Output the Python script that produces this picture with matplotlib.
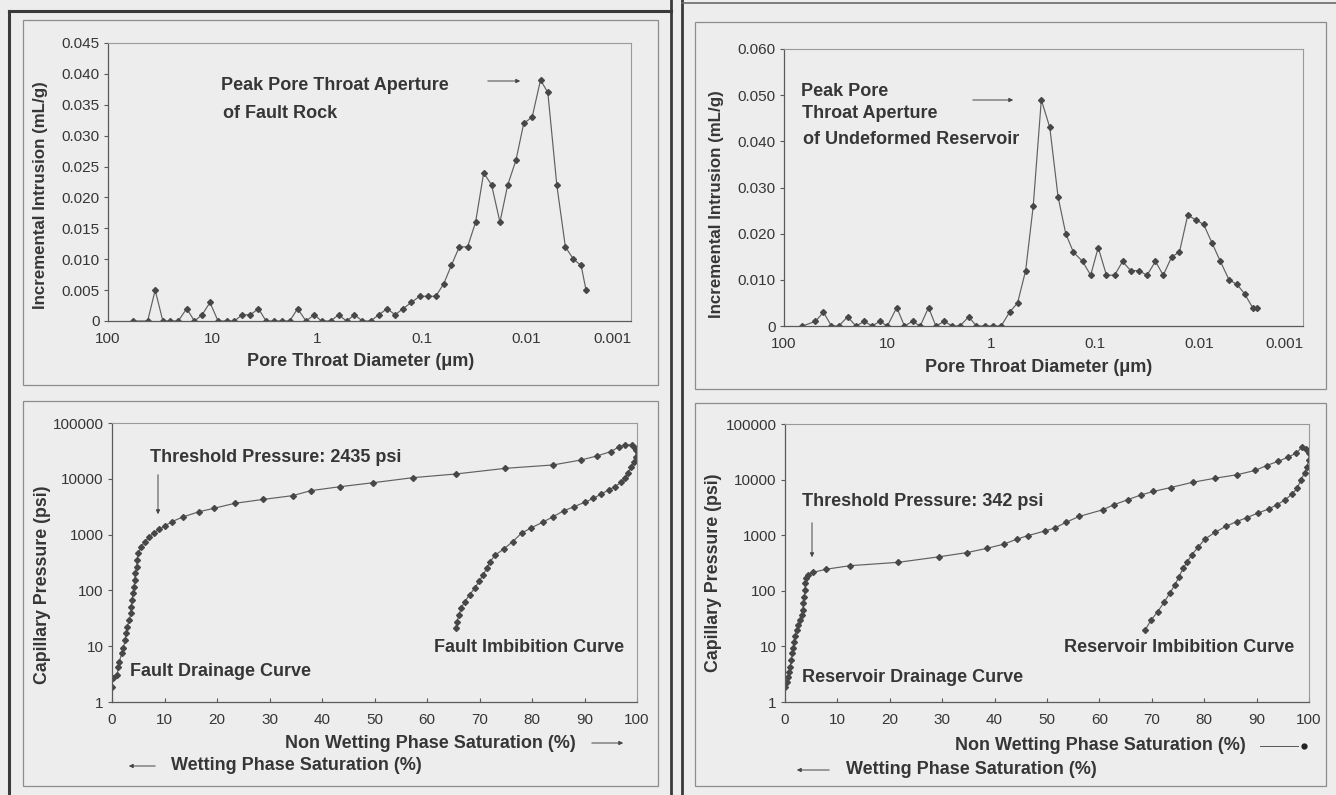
import matplotlib
matplotlib.use("Agg")
import matplotlib.pyplot as plt
import matplotlib.transforms as mtransforms
from matplotlib.patches import Rectangle, FancyArrowPatch
from matplotlib.lines import Line2D
from matplotlib.ticker import FixedLocator, NullLocator

plt.rcParams['font.family'] = ['Liberation Sans', 'DejaVu Sans']

# ---------------- data ----------------
# Fault rock pore throat size distribution
fault_diam = [57.4, 41.8, 35.4, 29.9, 25.8, 21.3, 17.7, 14.9, 12.6, 10.6,
              8.87, 7.31, 6.18, 5.23, 4.35, 3.65, 3.08, 2.59, 2.19, 1.83,
              1.54, 1.28, 1.07, 0.908, 0.745, 0.625, 0.524, 0.440, 0.369, 0.309,
              0.258, 0.214, 0.180, 0.151, 0.126, 0.105, 0.0879, 0.0736, 0.0618, 0.0522,
              0.0438, 0.0365, 0.0306, 0.0256, 0.0215, 0.0179, 0.0151, 0.0126, 0.0106, 0.00881,
              0.00733, 0.00624, 0.00512, 0.00424, 0.00355, 0.00300, 0.00269]
fault_incr = [0, 0, 0.005, 0, 0, 0, 0.002, 0, 0.001, 0.003,
              0, 0, 0, 0.001, 0.001, 0.002, 0, 0, 0, 0,
              0.002, 0, 0.001, 0, 0, 0.001, 0, 0.001, 0, 0,
              0.001, 0.002, 0.001, 0.002, 0.003, 0.004, 0.004, 0.004, 0.006, 0.009,
              0.012, 0.012, 0.016, 0.024, 0.022, 0.016, 0.022, 0.026, 0.032, 0.033,
              0.039, 0.037, 0.022, 0.012, 0.010, 0.009, 0.005]

# Undeformed reservoir pore throat size distribution
res_diam = [66.5, 49.8, 41.7, 34.9, 29.6, 24.4, 20.3, 16.8, 14.2, 11.9,
            10.1, 8.20, 6.91, 5.78, 4.87, 4.05, 3.44, 2.86, 2.39, 2.02,
            1.66, 1.40, 1.16, 0.966, 0.809, 0.671, 0.562, 0.470, 0.397, 0.332,
            0.275, 0.229, 0.193, 0.163, 0.133, 0.111, 0.0940, 0.0782, 0.0653, 0.0547,
            0.0458, 0.0383, 0.0318, 0.0264, 0.0222, 0.0184, 0.0155, 0.0129, 0.0108, 0.00906,
            0.00753, 0.00625, 0.00516, 0.00432, 0.00366, 0.00306, 0.00277]
res_incr = [0, 0.001, 0.003, 0, 0, 0.002, 0, 0.001, 0, 0.001,
            0, 0.004, 0, 0.001, 0, 0.004, 0, 0.001, 0, 0,
            0.002, 0, 0, 0, 0, 0.003, 0.005, 0.012, 0.026, 0.049,
            0.043, 0.028, 0.020, 0.016, 0.014, 0.011, 0.017, 0.011, 0.011, 0.014,
            0.012, 0.012, 0.011, 0.014, 0.011, 0.015, 0.016, 0.024, 0.023, 0.022,
            0.018, 0.014, 0.010, 0.009, 0.007, 0.004, 0.004]

# Fault rock capillary pressure (drainage then imbibition)
fault_drain_sat = [0.06, 0.1, 1.0, 1.2, 1.4, 1.85, 2.15, 2.5, 2.7, 2.9,
                   3.3, 3.6, 3.7, 3.8, 4.05, 4.25, 4.3, 4.45, 4.7, 4.8,
                   5.0, 5.5, 6.3, 7.1, 8.0, 9.0, 10.0, 11.4, 13.6, 16.6,
                   19.4, 23.4, 28.8, 34.4, 37.9, 43.5, 49.7, 57.4, 65.5, 74.9,
                   84.0, 89.3, 92.4, 95.0, 96.5, 97.8, 99.0, 99.7]
fault_drain_p = [1.88, 2.66, 3.05, 4.3, 5.3, 7.45, 9.2, 12.9, 17, 22.4,
                 29.5, 38.9, 51, 67, 89, 117, 154, 203, 266, 350,
                 460, 605, 745, 915, 1080, 1240, 1420, 1700, 2090, 2570,
                 2960, 3640, 4270, 4990, 6140, 7230, 8500, 10500, 12200, 15400,
                 17700, 21700, 25700, 30700, 37000, 41000, 40000, 36000]
fault_imb_sat = [99.8, 99.8, 99.4, 98.9, 98.2, 97.8, 97.0, 95.8, 94.6, 93.2,
                 91.7, 90.1, 88.0, 86.0, 84.0, 82.0, 79.9, 78.0, 76.3, 74.6,
                 73.0, 72.0, 71.4, 70.7, 69.9, 69.1, 68.1, 67.2, 66.5, 66.1,
                 65.7, 65.5]
fault_imb_p = [33000, 25000, 20300, 16400, 12500, 10200, 8700, 7240, 6300, 5360,
               4450, 3820, 3160, 2660, 2090, 1660, 1330, 1060, 745, 550,
               430, 325, 250, 190, 145, 110, 83, 63, 48, 36,
               27.5, 21]

# Reservoir capillary pressure (drainage then imbibition)
res_drain_sat = [0, 0.3, 0.5, 0.8, 1.0, 1.2, 1.4, 1.6, 1.7, 1.9,
                 2.2, 2.5, 2.9, 3.2, 3.4, 3.5, 3.7, 3.8, 3.9, 4.1,
                 4.4, 5.4, 7.8, 12.4, 21.6, 29.4, 34.8, 38.5, 41.7, 44.2,
                 46.3, 49.6, 51.5, 53.6, 56.1, 60.6, 62.8, 65.4, 68.0, 70.3,
                 73.6, 77.8, 82.1, 86.2, 89.7, 91.9, 94.1, 95.9, 97.6, 98.6,
                 99.4]
res_drain_p = [1.84, 2.3, 2.85, 3.5, 4.3, 5.7, 7.5, 9.2, 12.2, 15.4,
               19.7, 24.3, 29.8, 36.6, 46, 60, 78, 103, 136, 167,
               192, 215, 244, 283, 325, 409, 488, 580, 688, 845,
               980, 1190, 1350, 1700, 2170, 2860, 3540, 4340, 5330, 6110,
               7200, 8950, 10600, 12200, 14600, 17900, 21300, 25100, 30000, 37900,
               36000]
res_imb_sat = [100, 100, 99.6, 99.2, 98.4, 97.8, 96.7, 95.5, 93.9, 92.3,
               90.2, 88.2, 86.2, 84.1, 82.1, 80.2, 78.9, 77.6, 76.8, 76.0,
               75.2, 74.4, 73.4, 72.4, 71.1, 69.9, 68.7]
res_imb_p = [30000, 22800, 17200, 13100, 9900, 7000, 5460, 4340, 3540, 2960,
             2490, 2080, 1760, 1440, 1130, 860, 620, 440, 335, 255,
             180, 127, 90, 63, 42, 30, 19.6]

diam_ticks = [100, 10, 1, 0.1, 0.01, 0.001]
diam_labels = ['100', '10', '1', '0.1', '0.01', '0.001']
fault_yticks = [0, 0.005, 0.010, 0.015, 0.020, 0.025, 0.030, 0.035, 0.040, 0.045]
fault_ylabels = ['0', '0.005', '0.010', '0.015', '0.020', '0.025', '0.030', '0.035', '0.040', '0.045']
res_yticks = [0, 0.010, 0.020, 0.030, 0.040, 0.050, 0.060]
res_ylabels = ['0', '0.010', '0.020', '0.030', '0.040', '0.050', '0.060']
pc_ticks = [1, 10, 100, 1000, 10000, 100000]
pc_labels = ['1', '10', '100', '1000', '10000', '100000']
sat_ticks = list(range(0, 101, 10))

# ---------------- figure ----------------
W, H = 1336, 795
PAGE = '#ededed'
INK = '#363636'
TICK_SIZE = 11
TEXT_SIZE = 13
fig = plt.figure(figsize=(W / 100, H / 100), dpi=100, facecolor=PAGE)
# pixel coordinates measured from the top-left corner of the page
PX = mtransforms.Affine2D().scale(1 / W, -1 / H).translate(0, 1) + fig.transFigure


def add_axes_px(left, top, right, bottom):
    ax = fig.add_axes([left / W, 1 - bottom / H, (right - left) / W, (bottom - top) / H])
    ax.set_facecolor('none')
    for side in ('top', 'right'):
        ax.spines[side].set_color('#9a9a9a')
        ax.spines[side].set_linewidth(0.8)
    for side in ('left', 'bottom'):
        ax.spines[side].set_color('#5a5a5a')
        ax.spines[side].set_linewidth(0.9)
    ax.tick_params(axis='y', direction='out', length=3, width=0.8, color='#5a5a5a',
                   labelsize=TICK_SIZE, labelcolor=INK, pad=3)
    ax.tick_params(axis='x', direction='in', length=3, width=0.8, color='#5a5a5a',
                   labelsize=TICK_SIZE, labelcolor=INK, pad=8)
    return ax


def frame_box(l, t, r, b, color='#8c8c8c', lw=0.9):
    fig.add_artist(Rectangle((l, t), r - l, b - t, transform=PX, fill=False,
                             edgecolor=color, linewidth=lw))


def rule(x0, y0, x1, y1, color='#3a3a3a', lw=2.2):
    fig.add_artist(Line2D([x0, x1], [y0, y1], transform=PX, color=color, linewidth=lw))


def label(x, y, s, size=TEXT_SIZE, ha='center', va='center', rot=0, weight='bold'):
    fig.text(x, y, s, transform=PX, ha=ha, va=va, rotation=rot, fontsize=size,
             fontweight=weight, color=INK)


def arrow(x0, y0, x1, y1, head='-|>'):
    fig.add_artist(FancyArrowPatch((x0, y0), (x1, y1), transform=PX, arrowstyle=head,
                                   mutation_scale=6, color='#444444', linewidth=0.7))


# page frames
rule(9, 11, 671, 11)
rule(9, 11, 9, 795)
rule(671, 0, 671, 795, lw=2.0)
rule(682, 0, 682, 795, lw=2.0)
rule(682, 3, 1336, 3, color='#6a6a6a', lw=1.2)
frame_box(23, 20, 658, 385)
frame_box(23, 401, 658, 786)
frame_box(695, 22, 1326, 389)
frame_box(695, 403, 1326, 786)

line_kw = dict(color='#606060', linewidth=0.85, marker='D', markersize=3.0,
               markerfacecolor='#474747', markeredgecolor='#474747')


def diameter_axes(ax, diam, incr, yt, yl, ytop):
    ax.plot(diam, incr, **line_kw)
    ax.set_xscale('log')
    ax.set_xlim(100, 0.001)
    ax.set_ylim(0, ytop)
    ax.xaxis.set_major_locator(FixedLocator(diam_ticks))
    ax.xaxis.set_minor_locator(NullLocator())
    ax.set_xticklabels(diam_labels)
    ax.get_xticklabels()[-1].set_horizontalalignment('right')
    ax.set_yticks(yt)
    ax.set_yticklabels(yl)
    ax.tick_params(axis='x', length=0)


# top-left: fault rock intrusion
ax1 = add_axes_px(108, 43, 631, 321)
diameter_axes(ax1, fault_diam, fault_incr, fault_yticks, fault_ylabels, 0.045)
label(41, 195, 'Incremental Intrusion (mL/g)', rot=90, size=12.2)
label(361, 362, 'Pore Throat Diameter (\u03bcm)')
label(221, 85, 'Peak Pore Throat Aperture', ha='left')
label(223, 113, 'of Fault Rock', ha='left')
arrow(485, 81, 523, 81)

# top-right: undeformed reservoir intrusion
ax2 = add_axes_px(784, 49, 1303, 326)
diameter_axes(ax2, res_diam, res_incr, res_yticks, res_ylabels, 0.060)
label(717, 204, 'Incremental Intrusion (mL/g)', rot=90, size=12.2)
label(1039, 368, 'Pore Throat Diameter (\u03bcm)')
label(801, 91, 'Peak Pore', ha='left')
label(802, 114, 'Throat Aperture', ha='left')
label(803, 139, 'of Undeformed Reservoir', ha='left')
arrow(970, 100, 1016, 100)


def pressure_axes(ax, dsat, dp, isat, ip):
    ax.plot(dsat + isat, dp + ip, **line_kw)
    ax.set_yscale('log')
    ax.set_ylim(1, 100000)
    ax.set_xlim(0, 100)
    ax.yaxis.set_major_locator(FixedLocator(pc_ticks))
    ax.yaxis.set_minor_locator(NullLocator())
    ax.set_yticklabels(pc_labels)
    ax.set_xticks(sat_ticks)
    ax.set_xticklabels([str(v) for v in sat_ticks])


# bottom-left: fault capillary pressure
ax3 = add_axes_px(112, 423, 637, 702)
pressure_axes(ax3, fault_drain_sat, fault_drain_p, fault_imb_sat, fault_imb_p)
label(43, 585, 'Capillary Pressure (psi)', rot=90, size=12.8)
label(150, 457, 'Threshold Pressure: 2435 psi', ha='left')
label(130, 672, 'Fault Drainage Curve', ha='left')
label(434, 647, 'Fault Imbibition Curve', ha='left')
arrow(158, 472, 158, 517)
label(430, 743, 'Non Wetting Phase Saturation (%)')
arrow(589, 743, 626, 743)
label(296, 766, 'Wetting Phase Saturation (%)')
arrow(158, 766, 126, 766)

# bottom-right: reservoir capillary pressure
ax4 = add_axes_px(785, 424, 1309, 702)
pressure_axes(ax4, res_drain_sat, res_drain_p, res_imb_sat, res_imb_p)
label(713, 573, 'Capillary Pressure (psi)', rot=90, size=12.8)
label(802, 501, 'Threshold Pressure: 342 psi', ha='left')
label(802, 678, 'Reservoir Drainage Curve', ha='left')
label(1064, 648, 'Reservoir Imbibition Curve', ha='left')
arrow(812, 520, 812, 560)
label(1100, 746, 'Non Wetting Phase Saturation (%)')
rule(1260, 746, 1298, 746, color='#555555', lw=0.7)
fig.add_artist(Line2D([1304], [746], transform=PX, marker='o', markersize=3.5,
                      color='#222222', linestyle='none'))
label(971, 770, 'Wetting Phase Saturation (%)')
arrow(832, 770, 794, 770)

fig.savefig('out.png', dpi=100, facecolor=PAGE)
